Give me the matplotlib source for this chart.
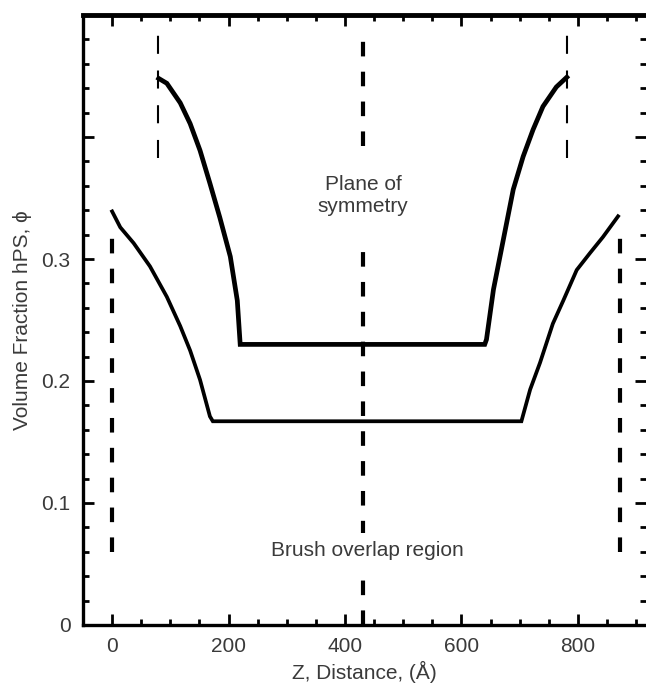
import matplotlib
matplotlib.use("Agg")
import matplotlib.pyplot as plt
from matplotlib.ticker import MultipleLocator, FixedLocator, FixedFormatter

plt.rcParams['font.family'] = ['Liberation Sans', 'DejaVu Sans']
plt.rcParams['lines.scale_dashes'] = False

# --- data ---
upper_z = [80, 94, 117, 134, 151, 168, 185, 203, 215, 220, 640, 643, 655, 672, 689, 706, 723, 740, 763, 781]
upper_phi = [0.448, 0.444, 0.428, 0.411, 0.389, 0.362, 0.334, 0.302, 0.266, 0.230,
             0.230, 0.234, 0.275, 0.316, 0.357, 0.384, 0.406, 0.425, 0.441, 0.449]

lower_z = [0, 14, 37, 65, 94, 117, 134, 151, 168, 173, 703, 718, 735, 757, 775, 798, 821, 843, 869]
lower_phi = [0.339, 0.326, 0.313, 0.294, 0.269, 0.245, 0.225, 0.201, 0.171, 0.167,
             0.167, 0.193, 0.215, 0.247, 0.266, 0.291, 0.305, 0.318, 0.335]

lower_walls = [0, 872]
lower_wall_range = [0.06, 0.325]
upper_walls = [79, 781]
upper_wall_range = [0.383, 0.485]
symmetry_z = 431
symmetry_low = [0.0, 0.314]
symmetry_high = [0.393, 0.49]

x_major = [0, 200, 400, 600, 800]
y_major = [0, 0.1, 0.2, 0.3, 0.4]
y_labels = ['0', '0.1', '0.2', '0.3', '']

text_color = '#3a3a3a'
fs = 15

fig = plt.figure(figsize=(6.46, 6.83), dpi=100)
ax = fig.add_axes([83/646, 58/683, (646-83)/646, 610/683])

# curves
ax.plot(upper_z, upper_phi, color='black', lw=3.4, solid_joinstyle='miter', zorder=3)
ax.plot(lower_z, lower_phi, color='black', lw=2.7, solid_joinstyle='miter', zorder=3)

thick_dash = dict(color='black', lw=3.0, dashes=(10.5, 11), dash_capstyle='butt', zorder=2)
for z in lower_walls:
    ax.plot([z, z], lower_wall_range, **thick_dash)
ax.plot([symmetry_z, symmetry_z], symmetry_low, **thick_dash)
ax.plot([symmetry_z, symmetry_z], symmetry_high, **thick_dash)

thin_dash = dict(color='black', lw=1.5, dashes=(13, 12), dash_capstyle='butt', zorder=2)
for z in upper_walls:
    ax.plot([z, z], upper_wall_range, **thin_dash)

ax.text(symmetry_z, 0.352, 'Plane of\nsymmetry', ha='center', va='center',
        fontsize=fs, color=text_color, linespacing=1.25, zorder=5)
ax.text(438, 0.061, 'Brush overlap region', ha='center', va='center',
        fontsize=fs, color=text_color, zorder=5,
        bbox=dict(facecolor='white', edgecolor='none', pad=6))

ax.set_xlim(-50, 917)
ax.set_ylim(0, 0.5)

ax.xaxis.set_major_locator(FixedLocator(x_major))
ax.xaxis.set_minor_locator(MultipleLocator(50))
ax.yaxis.set_major_locator(FixedLocator(y_major))
ax.yaxis.set_major_formatter(FixedFormatter(y_labels))
ax.yaxis.set_minor_locator(MultipleLocator(0.02))

ax.tick_params(which='both', direction='in', top=True, right=True, width=2.0,
               labelsize=fs, labelcolor=text_color, color='black')
ax.tick_params(which='major', length=8)
ax.tick_params(which='minor', length=4.5)
ax.tick_params(axis='x', pad=9)
ax.tick_params(axis='y', pad=9)

for side in ['left', 'bottom']:
    ax.spines[side].set_linewidth(2.4)
ax.spines['top'].set_linewidth(3.5)
ax.spines['right'].set_visible(False)

ax.set_xlabel('Z, Distance, (Å)', fontsize=fs, color=text_color, labelpad=3)
ax.set_ylabel('Volume Fraction hPS, ϕ', fontsize=fs, color=text_color, labelpad=7)

fig.savefig('out.png', dpi=100)
